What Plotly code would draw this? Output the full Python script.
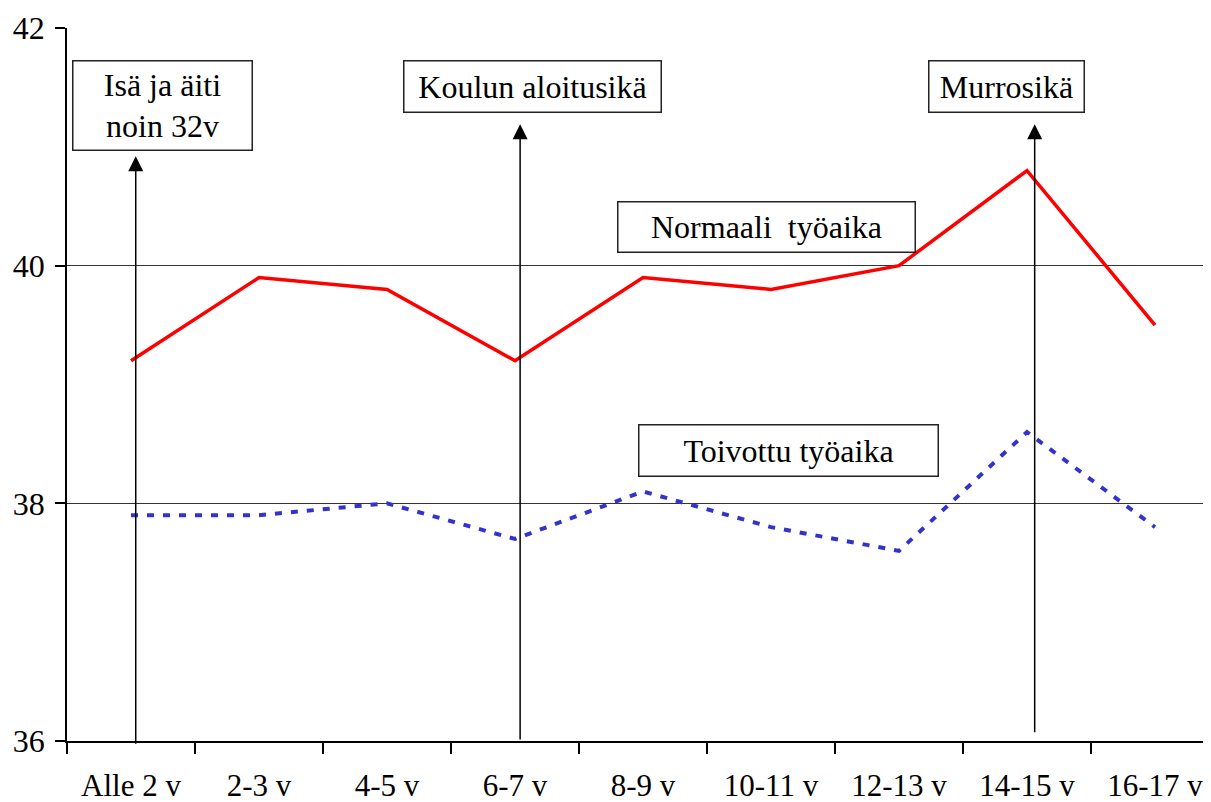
import plotly.graph_objects as go

categories = ["Alle 2 v", "2-3 v", "4-5 v", "6-7 v", "8-9 v", "10-11 v", "12-13 v", "14-15 v", "16-17 v"]
normaali = [39.2, 39.9, 39.8, 39.2, 39.9, 39.8, 40.0, 40.8, 39.5]
toivottu = [37.9, 37.9, 38.0, 37.7, 38.1, 37.8, 37.6, 38.6, 37.8]
y_ticks = [36, 38, 40, 42]

OFF = 8  # page body margin
W, H = 1211 - OFF, 802 - OFF
# plot area in viewport pixels: left 67, top 28, bottom 741, right 1211
L, T = 67 - OFF, 28 - OFF
B = H - (741 - OFF)
R = 0
FONT = "Liberation Serif, Times New Roman, serif"

fig = go.Figure()
fig.add_trace(go.Scatter(x=categories, y=normaali, mode="lines",
                         line=dict(color="#FF0000", width=3.5), showlegend=False))
fig.add_trace(go.Scatter(x=categories, y=toivottu, mode="lines",
                         line=dict(color="#3333CC", width=4, dash="7px,9px"), showlegend=False))

def px_x(X):
    return (X - 67) / (1211 - 67)

def px_y(Y):
    return (741 - Y) / (741 - 28)

# Text boxes (left, top, right, bottom in viewport pixels)
boxes = [
    ("Isä ja äiti<br>noin 32v", 72, 60, 253, 151),
    ("Koulun aloitusikä", 403, 60, 662, 113),
    ("Murrosikä", 928, 60, 1085, 113),
    ("Normaali  työaika", 617, 201, 916, 253),
    ("Toivottu työaika", 638, 424, 939, 477),
]
for txt, x0, y0, x1, y1 in boxes:
    fig.add_annotation(text=txt, xref="paper", yref="paper",
                       x=px_x(x0), y=px_y(y0), xanchor="left", yanchor="top",
                       width=x1 - x0 - 3, height=y1 - y0 - 3, showarrow=False,
                       align="center", valign="middle",
                       bordercolor="#222222", borderwidth=1.5, borderpad=0,
                       bgcolor="white", font=dict(family=FONT, size=32, color="black"))

# Arrows (x in category units, tip y, base y in data units)
arrows = [(0.037, 40.92, 35.965), (3.04, 41.19, 36.0), (7.06, 41.19, 36.06)]
for xa, ytip, ybase in arrows:
    fig.add_annotation(x=xa, y=ytip, ax=xa, ay=ybase, xref="x", yref="y",
                       axref="x", ayref="y", text="", showarrow=True,
                       arrowhead=2, arrowsize=2.0, arrowwidth=1.5, arrowcolor="black",
                       standoff=0, startstandoff=0)

fig.update_layout(
    width=W, height=H,
    margin=dict(l=L, r=R, t=T, b=B, pad=0),
    plot_bgcolor="white", paper_bgcolor="white",
    font=dict(family=FONT, size=32, color="black"),
    xaxis=dict(type="category", range=[-0.5, (1211 - 67) / 128 - 0.5],
               categoryorder="array", categoryarray=categories,
               showgrid=False, zeroline=False, showline=True, linecolor="black", linewidth=1.5,
               ticks="outside", tickson="boundaries", ticklen=11, tickwidth=1.5, tickcolor="black",
               ticklabelstandoff=16, tickfont=dict(family=FONT, size=31)),
    yaxis=dict(range=[36, 42], tickmode="array", tickvals=y_ticks,
               showgrid=True, gridcolor="#333333", gridwidth=1.2, zeroline=False,
               showline=True, linecolor="black", linewidth=1.5,
               ticks="outside", ticklen=10, tickwidth=1.5, tickcolor="black",
               ticklabelstandoff=4, tickfont=dict(family=FONT, size=32)),
)

fig.write_html("out.html")
